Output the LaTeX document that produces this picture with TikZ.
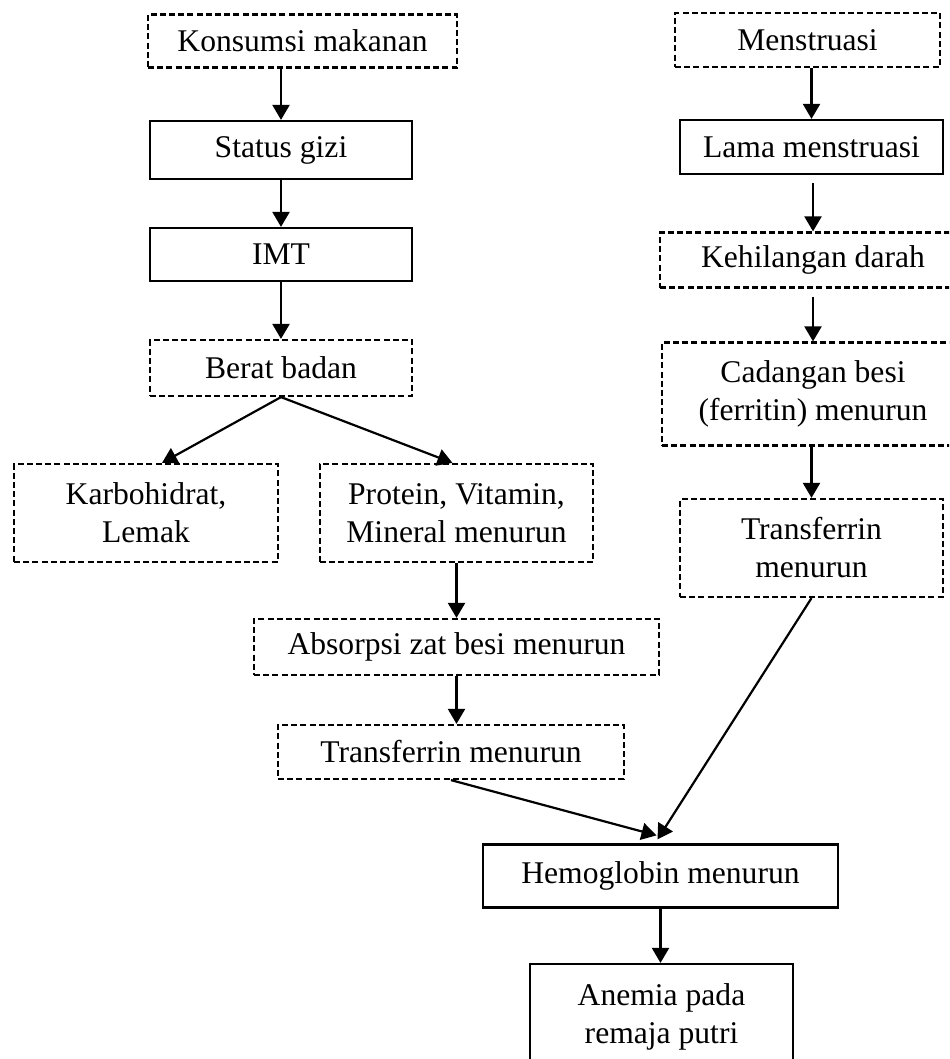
\documentclass[tikz,border=0pt]{standalone}
\usepackage{fontspec}
\setmainfont{Liberation Serif}
\usepackage{tikz}
\usetikzlibrary{arrows.meta,calc,positioning}
\tikzset{
	boxbase/.style={draw, line width=1.1pt, align=center, inner sep=0pt,
		font=\fontsize{15.8}{19}\selectfont},
	solidbox/.style={boxbase},
	dashbox/.style={boxbase, dash pattern=on 3pt off 1.6pt},
	arr/.style={line width=1.1pt, -{Triangle[width=8.5pt,length=7.5pt]}},
}
\begin{document}
\begin{tikzpicture}[x=0.5pt, y=-0.5pt]

	\clip (0,0) rectangle (949,1059);
	\fill[white] (0,0) rectangle (949,1059);

	% left column
	\node[dashbox, minimum width=154.5pt, minimum height=26.5pt] (kons) at (302.5,41) {Konsumsi makanan};
	\node[solidbox, minimum width=131pt, minimum height=29pt] (status) at (281,150) {Status gizi};
	\node[solidbox, minimum width=131pt, minimum height=26.5pt] (imt) at (281,254.5) {IMT};
	\node[dashbox, minimum width=131pt, minimum height=28pt] (berat) at (281,368) {Berat badan};
	\node[dashbox, minimum width=132pt, minimum height=49pt] (karb) at (146,513) {Karbohidrat,\\ Lemak};
	\node[dashbox, minimum width=136.5pt, minimum height=49pt] (prot) at (456.5,513) {Protein, Vitamin,\\ Mineral menurun};
	\node[dashbox, minimum width=202.5pt, minimum height=28pt] (absorp) at (456.5,647) {Absorpsi zat besi menurun};
	\node[dashbox, minimum width=173pt, minimum height=27pt] (tfl) at (451,752) {Transferrin menurun};
	\node[solidbox, minimum width=177.5pt, minimum height=31.5pt] (hemo) at (660.5,876) {Hemoglobin menurun};
	\node[solidbox, minimum width=131.5pt, minimum height=53pt] (anemia) at (661.5,1017) {Anemia pada\\ remaja putri};

	% right column
	\node[dashbox, minimum width=132.5pt, minimum height=27pt] (mens) at (807.5,40) {Menstruasi};
	\node[solidbox, minimum width=131.5pt, minimum height=27pt] (lama) at (811.5,147) {Lama menstruasi};
	\node[dashbox, minimum width=153pt, minimum height=27.5pt] (keh) at (813,260) {Kehilangan darah};
	\node[dashbox, minimum width=151pt, minimum height=51.5pt] (cad) at (813,394) {Cadangan besi\\ (ferritin) menurun};
	\node[dashbox, minimum width=131.5pt, minimum height=49pt] (tfr) at (811.5,548) {Transferrin\\ menurun};

	\draw[arr] (kons.south -| status.north) -- (status.north);
	\draw[arr] (status) -- (imt);
	\draw[arr] (imt) -- (berat);
	\draw[arr] (berat.south) -- ([xshift=8pt]karb.north);
	\draw[arr] (berat.south) -- ([xshift=-2pt]prot.north);
	\draw[arr] (prot) -- (absorp);
	\draw[arr] (absorp.south) -- (absorp.south |- tfl.north);
	\draw[arr] (tfl.south) -- ([xshift=-2pt,yshift=4pt]hemo.north);
	\draw[arr] (tfr.south) -- ([xshift=-1.5pt,yshift=2pt]hemo.north);
	\draw[arr] (hemo.south) -- (hemo.south |- anemia.north);

	\draw[arr] (lama.north |- mens.south) -- (lama.north);
	\draw[arr, shorten <=4pt] (lama.south -| keh.north) -- (keh.north);
	\draw[arr, shorten <=4pt] (keh) -- (cad);
	\draw[arr] (tfr.north |- cad.south) -- (tfr.north);

\end{tikzpicture}
\end{document}
